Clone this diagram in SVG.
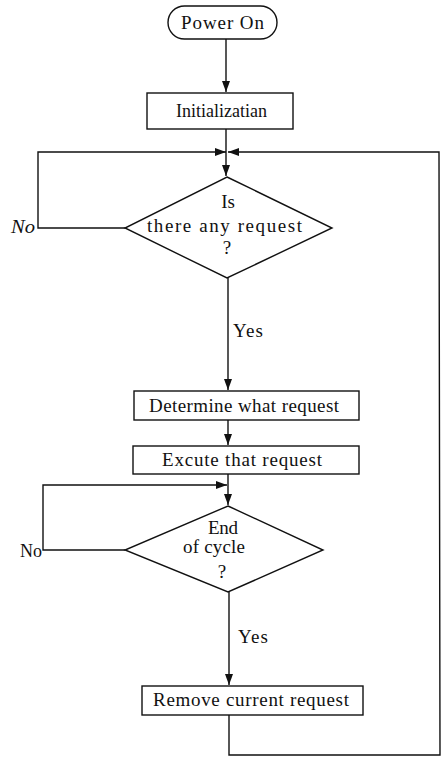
<svg xmlns="http://www.w3.org/2000/svg" width="443" height="757" viewBox="0 0 443 757">
<style>
.s{fill:#fff;stroke:#111;stroke-width:1.4}
.c{fill:none;stroke:#111;stroke-width:1.4}
text{font-family:"Liberation Serif","Times New Roman",serif;font-size:19px;fill:#111}
.m{text-anchor:middle}
</style>
<defs>
<marker id="ah" markerUnits="userSpaceOnUse" markerWidth="12" markerHeight="8" refX="11" refY="4" orient="auto">
<path d="M0,0 L11,4 L0,8 z" fill="#111"/>
</marker>
</defs>
<rect width="443" height="757" fill="#fff"/>
<g id="connectors">
<line class="c" x1="226" y1="39" x2="226" y2="92" marker-end="url(#ah)"/>
<line class="c" x1="226" y1="129" x2="226" y2="176" marker-end="url(#ah)"/>
<polyline class="c" points="125,228 38,228 38,152 226,152" marker-end="url(#ah)"/>
<polyline class="c" points="229,715 229,755 440,755 439,152 228,152" marker-end="url(#ah)"/>
<line class="c" x1="228" y1="278" x2="228" y2="390" marker-end="url(#ah)"/>
<line class="c" x1="228" y1="420" x2="228" y2="445" marker-end="url(#ah)"/>
<line class="c" x1="228" y1="474" x2="228" y2="505" marker-end="url(#ah)"/>
<polyline class="c" points="125,550 43,550 43,485 227,485" marker-end="url(#ah)"/>
<line class="c" x1="229" y1="592" x2="229" y2="685" marker-end="url(#ah)"/>
<text x="11" y="233" font-style="italic" textLength="24" lengthAdjust="spacingAndGlyphs">No</text>
<text x="233" y="337" textLength="30" lengthAdjust="spacing">Yes</text>
<text x="20" y="557" textLength="22" lengthAdjust="spacingAndGlyphs">No</text>
<text x="238" y="643" textLength="30" lengthAdjust="spacing">Yes</text>
</g>
<g id="power-on">
<rect class="s" x="168" y="6" width="109" height="33" rx="16.5"/>
<text class="m" x="222.5" y="29" textLength="83" lengthAdjust="spacing">Power On</text>
</g>
<g id="initialization">
<rect class="s" x="147" y="93" width="146" height="36"/>
<text class="m" x="221.5" y="117" textLength="91" lengthAdjust="spacingAndGlyphs">Initializatian</text>
</g>
<g id="any-request">
<polygon class="s" points="227,177 332,228 227,278 125,228"/>
<text class="m" x="228" y="208">Is</text>
<text class="m" x="224.5" y="232" textLength="155" lengthAdjust="spacing">there any request</text>
<text class="m" x="227" y="254">?</text>
</g>
<g id="determine">
<rect class="s" x="134" y="391" width="225" height="29"/>
<text class="m" x="244" y="412" textLength="190" lengthAdjust="spacing">Determine what request</text>
</g>
<g id="execute">
<rect class="s" x="133" y="446" width="226" height="28"/>
<text class="m" x="242" y="466" textLength="160" lengthAdjust="spacing">Excute that request</text>
</g>
<g id="end-of-cycle">
<polygon class="s" points="228,506 323,550 228,592 125,550"/>
<text class="m" x="223" y="534" textLength="30" lengthAdjust="spacing">End</text>
<text class="m" x="214" y="553" textLength="62" lengthAdjust="spacing">of cycle</text>
<text class="m" x="222" y="578">?</text>
</g>
<g id="remove">
<rect class="s" x="142" y="686" width="221" height="29"/>
<text class="m" x="251" y="706" textLength="196" lengthAdjust="spacing">Remove current request</text>
</g>
</svg>
